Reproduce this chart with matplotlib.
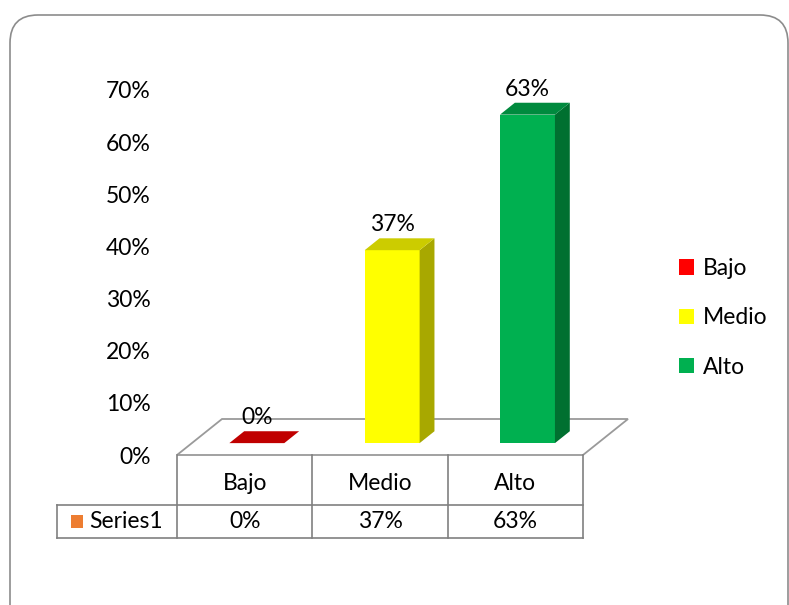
import matplotlib
matplotlib.use('Agg')
import matplotlib.pyplot as plt
from matplotlib.patches import Polygon, Patch, FancyBboxPatch
from matplotlib.transforms import blended_transform_factory

# data
categories = ['Bajo', 'Medio', 'Alto']
values = [0, 37, 63]
series_name = 'Series1'
yticks = [0, 10, 20, 30, 40, 50, 60, 70]

front_colors = ['#FF0000', '#FFFF00', '#00B050']
top_colors = ['#C00000', '#CCCC00', '#008A3E']
side_colors = ['#A00000', '#A8A800', '#007030']

plt.rcParams['font.family'] = ['Lato', 'DejaVu Sans']
FS = 16.5

W, H = 789, 605
fig = plt.figure(figsize=(W / 100, H / 100), dpi=100)

# background frame
bg = fig.add_axes([0, 0, 1, 1])
bg.set_xlim(0, W)
bg.set_ylim(H, 0)
bg.axis('off')
bg.add_patch(FancyBboxPatch((10, 15), 778, 640, boxstyle='round,pad=0,rounding_size=28',
                            fc='white', ec='#8c8c8c', lw=1.2))

# plot area: x in category units, y in percent
ax = fig.add_axes([177 / W, 1 - 455 / H, 406 / W, 365 / H])
ax.set_xlim(0, 3)
ax.set_ylim(0, 70)
for s in ax.spines.values():
    s.set_visible(False)
ax.set_xticks([])
ax.set_yticks(yticks)
ax.set_yticklabels([f'{t}%' for t in yticks], fontsize=FS)
ax.tick_params(axis='y', length=0, pad=19)
ax.patch.set_alpha(0)

# depth vector (data units) for the 3D look
dx = 45 * 3 / 406
dy = 36 * 70 / 365
d0, d1 = 0.33, 0.66
bw = 0.406

floor = Polygon([(0, 0), (3, 0), (3 + dx, dy), (dx, dy)], closed=True,
                fc='white', ec='#9a9a9a', lw=1.3, clip_on=False)
ax.add_patch(floor)

for i, v in enumerate(values):
    x0 = i + 0.5 - bw / 2 + d0 * dx - 0.02
    x1 = x0 + bw
    yb = d0 * dy
    ox = (d1 - d0) * dx
    oy = (d1 - d0) * dy
    front = [(x0, yb), (x1, yb), (x1, yb + v), (x0, yb + v)]
    side = [(x1, yb), (x1 + ox, yb + oy), (x1 + ox, yb + oy + v), (x1, yb + v)]
    top = [(x0, yb + v), (x1, yb + v), (x1 + ox, yb + oy + v), (x0 + ox, yb + oy + v)]
    if v > 0:
        ax.add_patch(Polygon(front, closed=True, fc=front_colors[i], ec='none', clip_on=False))
        ax.add_patch(Polygon(side, closed=True, fc=side_colors[i], ec='none', clip_on=False))
    ax.add_patch(Polygon(top, closed=True, fc=top_colors[i], ec='none', clip_on=False))
    ax.text((x0 + x1) / 2, yb + oy + v + 0.6, f'{v}%', ha='center', va='bottom',
            fontsize=FS, clip_on=False)

# data table below the plot
tr = blended_transform_factory(ax.transData, ax.transAxes)
lc = '#808080'
r1 = -50 / 365
r2 = -83 / 365
xl = -120 / 135.33
ax.plot([0, 0], [0, r2], color=lc, lw=1.2, transform=tr, clip_on=False)
for k in range(1, 4):
    ax.plot([k, k], [0, r2], color=lc, lw=1.2, transform=tr, clip_on=False)
ax.plot([xl, 3], [r1, r1], color=lc, lw=1.2, transform=tr, clip_on=False)
ax.plot([xl, 3], [r2, r2], color=lc, lw=1.2, transform=tr, clip_on=False)
ax.plot([xl, xl], [r1, r2], color=lc, lw=1.2, transform=tr, clip_on=False)
for i, (c, v) in enumerate(zip(categories, values)):
    ax.text(i + 0.5, r1 / 2 - 0.01, c, ha='center', va='center', fontsize=FS, transform=tr)
    ax.text(i + 0.5, (r1 + r2) / 2, f'{v}%', ha='center', va='center', fontsize=FS, transform=tr)
ax.add_patch(plt.Rectangle((xl + 0.1, (r1 + r2) / 2 - 0.018), 0.09, 0.036, fc='#ED7D31',
                           ec='none', transform=tr, clip_on=False))
ax.text(xl + 0.24, (r1 + r2) / 2, series_name, ha='left', va='center', fontsize=FS, transform=tr)

# legend
handles = [Patch(fc=c, ec='none', label=l) for c, l in zip(front_colors, categories)]
fig.legend(handles=handles, loc='upper left', bbox_to_anchor=(679 / W, 1 - 258 / H),
           frameon=False, fontsize=FS, handlelength=0.65, handleheight=0.65,
           handletextpad=0.4, labelspacing=1.24, borderpad=0, borderaxespad=0)

fig.savefig('out.png', dpi=100)
